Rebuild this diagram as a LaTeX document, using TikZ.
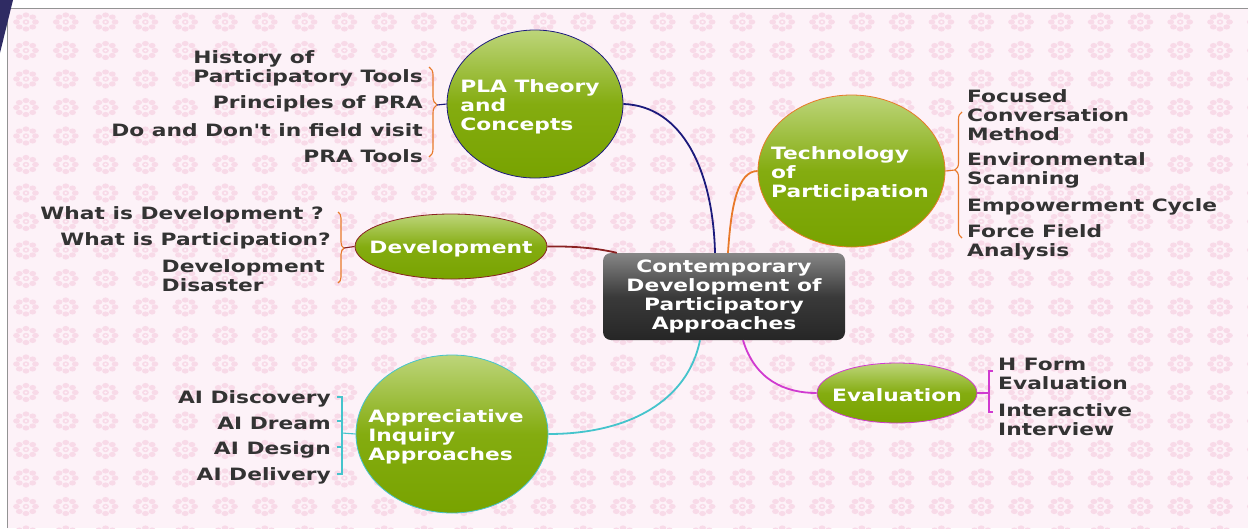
\documentclass[tikz,border=0pt]{standalone}
\usepackage{fontspec}
\usepackage{xcolor}
\usepackage{tikz}
\usetikzlibrary{calc,positioning,shapes.geometric,decorations.pathreplacing}
\newfontfamily\mapfont{DejaVu Sans}[FakeStretch=1.28]
\definecolor{bgpink}{HTML}{FDF2F8}
\definecolor{petal}{HTML}{F8DAE8}
\definecolor{cornernavy}{HTML}{2F2B63}
\definecolor{grnTop}{HTML}{BDD57A}
\definecolor{grnMid}{HTML}{84AC10}
\definecolor{grnBot}{HTML}{78A300}
\definecolor{coreTop}{HTML}{868686}
\definecolor{coreMid}{HTML}{3A3A3A}
\definecolor{coreBot}{HTML}{262626}
\definecolor{leafgray}{HTML}{333333}
\definecolor{navyline}{HTML}{1C1A7C}
\definecolor{orangeline}{HTML}{E8792A}
\definecolor{redline}{HTML}{8A2222}
\definecolor{cyanline}{HTML}{45C4CC}
\definecolor{magline}{HTML}{D03AD0}
\begin{document}
\begin{tikzpicture}[x=1pt,y=-1pt,
  topic/.style={ellipse,inner sep=0pt,line width=0.8pt,
    top color=grnTop,bottom color=grnBot,middle color=grnMid},
  ttext/.style={text=white,align=left,inner sep=0pt,yshift=-2.5pt,
    font=\mapfont\bfseries\fontsize{17}{19}\selectfont},
  corebox/.style={rectangle,rounded corners=8pt,inner sep=0pt,
    top color=coreTop,bottom color=coreBot,middle color=coreMid,
    text=white,align=center,font=\mapfont\bfseries\fontsize{17}{19}\selectfont},
  leaf/.style={text=leafgray,align=left,inner sep=0pt,yshift=-2.5pt,
    font=\mapfont\bfseries\fontsize{17}{19}\selectfont},
  branch/.style={line width=1.8pt},
  bracket/.style={line width=1.1pt}]
  \useasboundingbox (0,0) rectangle (1248,528);
  \fill[white] (0,0) rectangle (1248,528);

  % patterned background
  \begin{scope}
    \clip (7,8) rectangle (1248,528);
    \fill[bgpink] (7,8) rectangle (1248,528);
    \foreach \r in {0,...,18}
      \foreach \c in {0,...,31} {
        \pgfmathsetmacro\px{26+39.8*\c}
        \pgfmathsetmacro\py{22+28.5*\r}
        \fill[petal] (\px,\py) circle [x radius=3.3,y radius=2.7]
          \foreach \a in {0,45,...,315} {
            ([shift={(\a:9.5 and 7)}]\px,\py) ellipse [x radius=3.4,y radius=2.6]};
        \fill[bgpink] (\px,\py) circle [x radius=1.5,y radius=1.2];
      }
  \end{scope}
  \draw[gray!85,line width=1pt] (7,528) -- (7,8) -- (1248,8);
  \fill[cornernavy] (0,0) -- (13,0) -- (0,53) -- cycle;

  % central topic
  \node (core) [corebox,minimum width=242pt,minimum height=87pt] at (724,296.5)
    {Contemporary\\Development of\\Participatory\\Approaches};

  % main topics
  \node (pla) [topic,draw=navyline,minimum width=176pt,minimum height=148pt] at (535,104) {};
  \node (plaT) [ttext] at ([xshift=-5pt]pla.center) {PLA Theory\\and\\Concepts};
  \node (dev) [topic,draw=redline,minimum width=192pt,minimum height=65pt] at (451,246.5) {};
  \node (devT) [ttext] at (dev.center) {Development};
  \node (tech) [topic,draw=orangeline,minimum width=187pt,minimum height=152pt] at (851.5,171) {};
  \node (techT) [ttext] at ([xshift=-1.5pt]tech.center) {Technology\\of\\Participation};
  \node (eval) [topic,draw=magline,minimum width=160pt,minimum height=60pt] at (897,393) {};
  \node (evalT) [ttext] at (eval.center) {Evaluation};
  \node (ai) [topic,draw=cyanline,minimum width=192pt,minimum height=158pt] at (452,434) {};
  \node (aiT) [ttext] at ([xshift=-6pt]ai.center) {Appreciative\\Inquiry\\Approaches};

  % branches
  \draw[branch,navyline] (pla.east) .. controls (682,106) and (713,170) .. ([xshift=-9pt]core.north);
  \draw[branch,orangeline] ([xshift=4pt]core.north) .. controls (731,205) and (738,171) .. (tech.west);
  \draw[branch,redline] (dev.east) .. controls (580,246) and (600,249) .. ([xshift=14pt]core.north west);
  \draw[branch,cyanline] ([xshift=-24pt]core.south) .. controls (688,400) and (630,434) .. (ai.east);
  \draw[branch,magline] ([xshift=19pt]core.south) .. controls (755,380) and (785,393) .. (eval.west);

  % PLA leaves
  \node (hist) [leaf,anchor=east] at (423,65.5) {History of\\Participatory Tools};
  \node (prin) [leaf,anchor=east] at (423,101) {Principles of PRA};
  \node (dodont) [leaf,anchor=east] at (423,127.5) {Do and Don't in field visit};
  \node (tools) [leaf,anchor=east] at (423,154) {PRA Tools};
  \coordinate (plaTip) at (437,105);
  \draw[bracket,orangeline,decorate,decoration={brace,amplitude=8pt,aspect=0.42}] (429,67) -- (429,157);
  \draw[bracket,navyline] (plaTip) -- (pla.west);

  % Development leaves
  \node (wdev) [leaf,anchor=east] at (324,212) {What is Development ?};
  \node (wpar) [leaf,anchor=east] at (331,238) {What is Participation?};
  \node (dis) [leaf,anchor=east] at (325,273.5) {Development\\Disaster};
  \coordinate (devTip) at (344,248);
  \draw[bracket,orangeline,decorate,decoration={brace,amplitude=6pt,aspect=0.51}] (338,212) -- (338,283);
  \draw[bracket,redline] (devTip) -- (dev.west);

  % Technology leaves
  \node (focus) [leaf,anchor=west] at (967,113) {Focused\\Conversation\\Method};
  \node (envs) [leaf,anchor=west] at (967,167.5) {Environmental\\Scanning};
  \node (empw) [leaf,anchor=west] at (967,204) {Empowerment Cycle};
  \node (force) [leaf,anchor=west] at (967,239.5) {Force Field\\Analysis};
  \coordinate (techTip) at (955,170);
  \draw[bracket,orangeline,decorate,decoration={brace,amplitude=7pt,aspect=0.54}] (962,238) -- (962,112);
  \draw[bracket,orangeline] (tech.east) -- (techTip);

  % Evaluation leaves
  \node (hform) [leaf,anchor=west] at (998,371) {H Form\\Evaluation};
  \node (inter) [leaf,anchor=west] at (998,417) {Interactive\\Interview};
  \coordinate (evalTip) at (989,393);
  \draw[bracket,magline] (993,371) -- (989,371) -- (989,412) -- (993,412);
  \draw[bracket,magline] (eval.east) -- (evalTip);

  % Appreciative Inquiry leaves
  \node (aidisc) [leaf,anchor=east] at (331,396) {AI Discovery};
  \node (aidream) [leaf,anchor=east] at (331,421) {AI Dream};
  \node (aidesign) [leaf,anchor=east] at (331,447) {AI Design};
  \node (aideliv) [leaf,anchor=east] at (331,473) {AI Delivery};
  \coordinate (aiTip) at (342,433);
  \draw[bracket,cyanline] (337,397) -- (342,397) -- (342,474) -- (337,474);
  \draw[bracket,cyanline] (337,421) -- (342,421) (337,447) -- (342,447);
  \draw[bracket,cyanline] (aiTip) -- (ai.west);
\end{tikzpicture}
\end{document}
